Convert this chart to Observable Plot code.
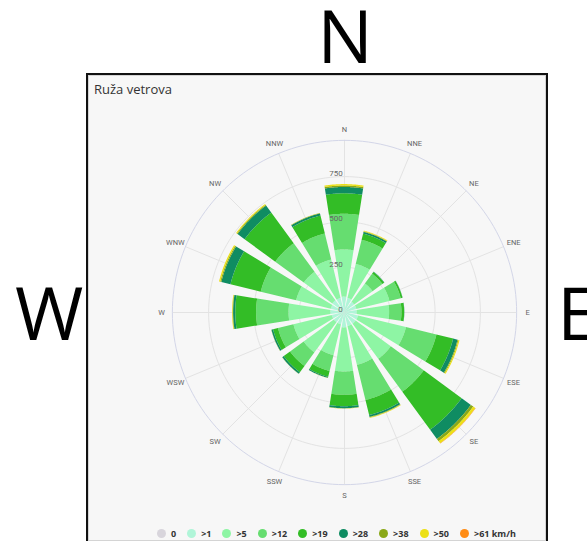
<!DOCTYPE html>
<html><head><meta charset="utf-8">
<script src="https://cdn.jsdelivr.net/npm/d3@7"></script>
<script src="https://cdn.jsdelivr.net/npm/@observablehq/plot@0.6"></script>
<style>
html,body{margin:0;padding:0;background:#fff;}
#page{position:relative;width:587px;height:541px;overflow:hidden;font-family:"Open Sans",sans-serif;}
.big{position:absolute;font-family:"Open Sans",sans-serif;font-size:74px;line-height:0.8;color:#000;}
#box{position:absolute;left:86px;top:73px;width:462px;height:470px;box-sizing:border-box;border:2px solid #111;background:#f7f7f7;box-shadow:inset 0 0 0 1px #d4d4d4;}
#title{position:absolute;left:94px;top:80px;font-size:13px;color:#333;}
#chart{position:absolute;left:144px;top:112px;}
#legend{position:absolute;left:157px;top:527px;display:flex;align-items:center;font:bold 9px "Open Sans",sans-serif;color:#333;}
#legend .item{display:flex;align-items:center;margin-right:11px;}
#legend .dot{width:9px;height:9px;border-radius:50%;margin-right:5px;}
</style></head>
<body><div id="page">
<div class="big" style="left:345px;top:5px;transform:translateX(-50%)">N</div>
<div class="big" style="left:15px;top:282px">W</div>
<div class="big" style="left:557px;top:282px">E</div>
<div id="box"></div>
<div id="title">Ruža vetrova</div>
<div id="chart"></div>
<div id="legend"></div>
</div>
<script>
const directions = ["N","NNE","NE","ENE","E","ESE","SE","SSE","S","SSW","SW","WSW","W","WNW","NW","NNW"];
const bins = ["0",">1",">5",">12",">19",">28",">38",">50",">61 km/h"];
const binColors = ["#d8d5dc","#b0f5d8","#8ef5a4","#66dd70","#33bd26","#0f8c62","#8aa818","#ece015","#ff8c14"];
// frequency per speed class, by direction (N .. NNW)
const calm   = [0,0,0,0,0,0,0,0,0,0,0,0,0,0,0,0];
const gt1    = [85,80,70,70,70,80,80,80,85,70,70,70,75,75,80,80];
const gt5    = [260,193,125,188,179,272,240,220,243,175,206,217,231,197,195,218];
const gt12   = [197,137,67,64,68,173,225,200,129,90,93,88,179,201,195,148];
const gt19   = [113,35,12,10,15,95,260,85,63,33,43,28,115,172,210,102];
const gt28   = [35,10,2,1,1,25,63,11,11,6,10,9,12,52,48,12];
const gt38   = [8,3,0,0,0,5,16,3,1,0,1,1,3,6,5,2];
const gt50   = [8,4,0,0,0,6,14,3,1,1,0,0,3,7,5,1];
const gt61   = [0,0,0,0,0,0,2,0,0,0,0,0,0,0,0,0];
const series = [calm,gt1,gt5,gt12,gt19,gt28,gt38,gt50,gt61];
const radialTicks = [0,250,500,750];
const axisMax = 950;

const K = 45.3/250;          // px per unit
const half = 200;            // half svg size px
const R = half / K;
const halfW = 8.8;           // half bar width, degrees
const rad = Math.PI/180;

const wedge = [];
directions.forEach((d,i) => {
  let acc = 0;
  series.forEach((s,j) => {
    const v = s[i];
    if (!(v > 0)) return;
    const r0 = acc, r1 = acc + v; acc = r1;
    const c = i*22.5;
    const n = 40;
    for (let k=0;k<=n;k++){
      const a = (c - halfW + 2*halfW*k/n)*rad;
      wedge.push({key:d+"-"+j, bin:bins[j],
        x1:r1*Math.sin(a), y1:r1*Math.cos(a), x2:r0*Math.sin(a), y2:r0*Math.cos(a)});
    }
  });
});

const rings = [];
[...radialTicks.slice(1), axisMax].forEach(r => {
  for (let a=0;a<=360;a+=2) rings.push({r, x:r*Math.sin(a*rad), y:r*Math.cos(a*rad)});
});

const labelR = 183/K;
const plot = Plot.plot({
  width: 2*half, height: 2*half, margin: 0,
  x:{domain:[-R,R], axis:null},
  y:{domain:[-R,R], axis:null},
  color:{domain:bins, range:binColors},
  style:{background:"transparent", fontFamily:"Roboto, sans-serif"},
  marks:[
    Plot.link(directions, {x1:0, y1:0,
      x2:(d,i)=>axisMax*Math.sin(i*22.5*rad), y2:(d,i)=>axisMax*Math.cos(i*22.5*rad),
      stroke:"#e3e3e3", strokeWidth:1}),
    Plot.line(rings, {x:"x", y:"y", z:"r",
      stroke:d=>d.r===axisMax?"#d3d6e8":"#e3e3e3", strokeWidth:1}),
    Plot.area(wedge, {x1:"x1", y1:"y1", x2:"x2", y2:"y2", z:"key", fill:"bin", curve:"linear"}),
    Plot.text(directions, {x:(d,i)=>labelR*Math.sin(i*22.5*rad), y:(d,i)=>labelR*Math.cos(i*22.5*rad),
      text:d=>d, fontSize:7.5, fill:"#666"}),
    Plot.text(radialTicks, {x:-1.8/K, y:d=>d+3/K, text:d=>String(d), textAnchor:"end", fontSize:8, fill:"#666"})
  ]
});
document.getElementById("chart").appendChild(plot);

const lg = document.getElementById("legend");
bins.forEach((b,j) => {
  const it = document.createElement("div"); it.className="item";
  const dot = document.createElement("span"); dot.className="dot"; dot.style.background=binColors[j];
  const t = document.createElement("span"); t.textContent=b;
  it.appendChild(dot); it.appendChild(t); lg.appendChild(it);
});
</script>
</body></html>
